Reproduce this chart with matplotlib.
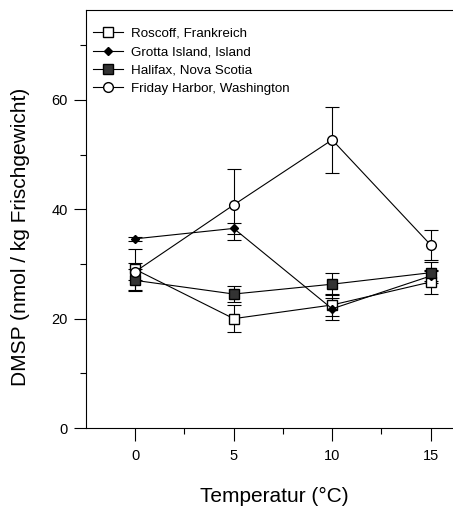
import numpy as np
import matplotlib.pyplot as plt

# Temperatur (°C) und DMSP-Werte (nmol / kg Frischgewicht)
temp = [0, 5, 10, 15]

roscoff = [29.0, 20.0, 22.5, 26.7]
roscoff_err = [3.7, 2.5, 2.0, 2.2]

grotta = [34.6, 36.5, 21.8, 27.8]
grotta_err = [0.4, 1.0, 2.0, 1.0]

halifax = [27.0, 24.5, 26.3, 28.4]
halifax_err = [2.0, 1.5, 2.0, 1.9]

friday = [28.6, 40.8, 52.7, 33.5]
friday_err = [1.5, 6.5, 6.0, 2.7]

labels = ["Roscoff, Frankreich", "Grotta Island, Island",
          "Halifax, Nova Scotia", "Friday Harbor, Washington"]

plt.rcParams['font.family'] = ['Liberation Sans', 'DejaVu Sans']

fig = plt.figure(figsize=(4.53, 5.11), dpi=100)
ax = fig.add_axes([0.19, 0.1624, 0.83, 0.8176])

series = [
    (roscoff, roscoff_err, dict(marker='s', mfc='white', mec='black', ms=6.5)),
    (grotta, grotta_err, dict(marker='D', mfc='black', mec='black', ms=4.2)),
    (halifax, halifax_err, dict(marker='s', mfc='#333333', mec='black', ms=6.5)),
    (friday, friday_err, dict(marker='o', mfc='white', mec='black', ms=7)),
]

handles = []
for (vals, err, style), lab in zip(series, labels):
    c = ax.errorbar(temp, vals, yerr=err, color='black', lw=0.8, elinewidth=0.8,
                    capsize=5, capthick=0.8, label=lab, **style)
    handles.append(c.lines[0])

ax.set_xlim(-2.5, 16.6)
ax.set_ylim(0, 76.4)
ax.set_xticks([0, 5, 10, 15])
ax.set_xticks([2.5, 7.5, 12.5], minor=True)
ax.set_yticks([0, 20, 40, 60])
ax.set_yticks([10, 30, 50, 70], minor=True)
ax.tick_params(axis='both', which='major', direction='out', length=9, width=0.8,
               labelsize=10.5)
ax.tick_params(axis='both', which='minor', direction='out', length=4.5, width=0.8)
ax.tick_params(axis='x', pad=6)
ax.tick_params(axis='y', pad=4)
ax.spines['right'].set_visible(False)
for s in ['left', 'bottom', 'top']:
    ax.spines[s].set_linewidth(0.8)

ax.set_xlabel("Temperatur (°C)", fontsize=15)
ax.xaxis.set_label_coords(0.5, -0.142)
ax.set_ylabel("DMSP (nmol / kg Frischgewicht)", fontsize=15)
ax.yaxis.set_label_coords(-0.15, 0.457)

leg = ax.legend(handles, labels, loc='upper left', frameon=False, fontsize=9.6,
                handlelength=2.2, handletextpad=0.6, labelspacing=0.45,
                borderaxespad=0.9, bbox_to_anchor=(-0.027, 1.0))

fig.savefig("out.png", dpi=100)
